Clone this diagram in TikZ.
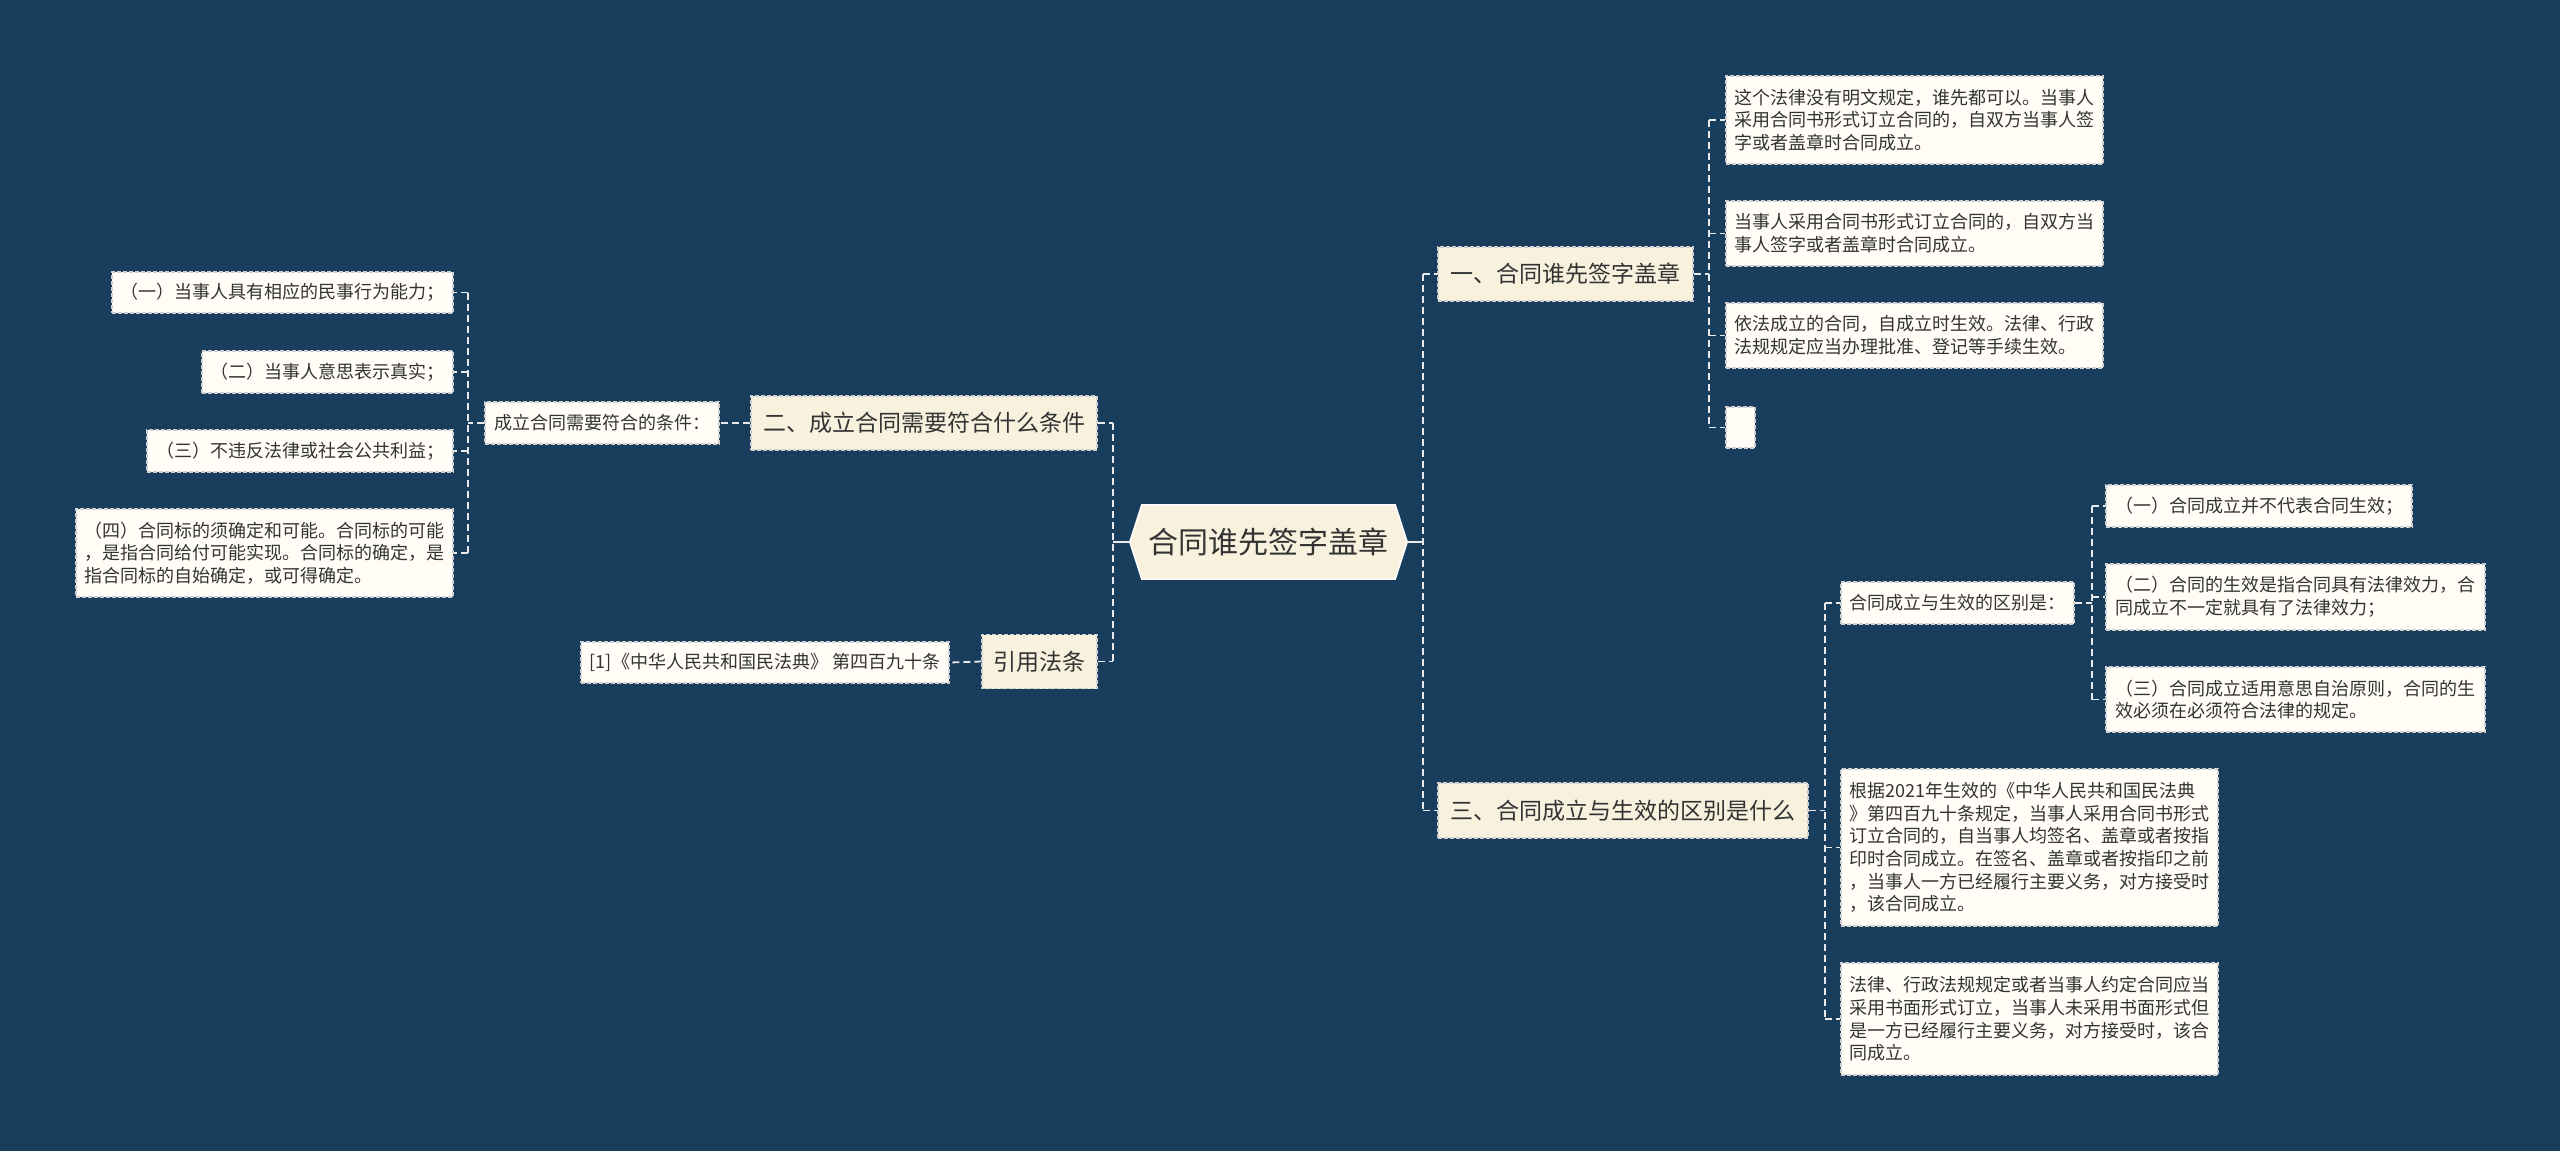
\documentclass[tikz,border=0pt]{standalone}
\usepackage{fontspec}
\setmainfont{Noto Sans CJK SC}
\usetikzlibrary{calc,backgrounds}
\definecolor{bg}{HTML}{183D5D}
\definecolor{topicfill}{HTML}{F7F1DE}
\definecolor{leaffill}{HTML}{FFFDF6}
\definecolor{txt}{HTML}{333333}
\definecolor{edgec}{HTML}{D0D0D0}
\definecolor{linec}{HTML}{EAEAEA}
\begin{document}
\begin{tikzpicture}[x=1pt,y=-1pt,
  box/.style={draw=edgec, line width=1.4pt, dash pattern=on 4pt off 2pt, text=txt, inner sep=0pt, align=left},
  topic/.style={box, fill=topicfill, font=\fontsize{23}{28}\selectfont},
  leaf/.style={box, fill=leaffill, font=\fontsize{18}{22.7}\selectfont},
  conn/.style={draw=linec, line width=1.8pt, dash pattern=on 7pt off 4pt},
  solidc/.style={draw=linec, line width=2pt},
]
\begin{pgfonlayer}{background}
\fill[bg] (0,0) rectangle (2560,1151);
\end{pgfonlayer}
\useasboundingbox (0,0) rectangle (2560,1151);

% root
\node[text=txt, font=\fontsize{30}{36}\selectfont, minimum width=277, minimum height=74, inner sep=0pt] (root) at (1268.5,542) {合同谁先签字盖章};
\begin{pgfonlayer}{background}
\draw[fill=topicfill, draw=white, line width=1.5pt] (root.west) -- ([xshift=12]root.north west) -- ([xshift=-12]root.north east) -- (root.east) -- ([xshift=-12]root.south east) -- ([xshift=12]root.south west) -- cycle;
\end{pgfonlayer}

% spine coordinates
\coordinate (sR) at (1423,0);
\coordinate (sL) at (1113,0);
\coordinate (s1) at (1709,0);
\coordinate (s3) at (1825,0);
\coordinate (sb) at (2092,0);
\coordinate (sd) at (468,0);

% topics
\node[topic, minimum width=255, minimum height=54] (t1) at (1565.5,274) {一、合同谁先签字盖章};
\node[topic, minimum width=370, minimum height=55] (t3) at (1623,810.5) {三、合同成立与生效的区别是什么};
\node[topic, minimum width=346, minimum height=54] (t2) at (924,423) {二、成立合同需要符合什么条件};
\node[topic, minimum width=115, minimum height=54] (t4) at (1039.5,661.5) {引用法条};

% leaves of t1
\node[leaf, minimum width=377, minimum height=88] (a1) at (1914.5,120) {这个法律没有明文规定，谁先都可以。当事人\\采用合同书形式订立合同的，自双方当事人签\\字或者盖章时合同成立。};
\node[leaf, minimum width=377, minimum height=65] (a2) at (1914.5,233.5) {当事人采用合同书形式订立合同的，自双方当\\事人签字或者盖章时合同成立。};
\node[leaf, minimum width=377, minimum height=65] (a3) at (1914.5,335.5) {依法成立的合同，自成立时生效。法律、行政\\法规规定应当办理批准、登记等手续生效。};
\node[leaf, minimum width=29, minimum height=41] (a4) at (1740.5,427.5) {};

% children of t3
\node[leaf, minimum width=233, minimum height=42] (b1) at (1957.5,603) {合同成立与生效的区别是：};
\node[leaf, minimum width=377, minimum height=157] (b2) at (2029.5,847.5) {根据2021年生效的《中华人民共和国民法典\\》第四百九十条规定，当事人采用合同书形式\\订立合同的，自当事人均签名、盖章或者按指\\印时合同成立。在签名、盖章或者按指印之前\\，当事人一方已经履行主要义务，对方接受时\\，该合同成立。};
\node[leaf, minimum width=377, minimum height=112] (b3) at (2029.5,1019) {法律、行政法规规定或者当事人约定合同应当\\采用书面形式订立，当事人未采用书面形式但\\是一方已经履行主要义务，对方接受时，该合\\同成立。};

% children of b1
\node[leaf, minimum width=306, minimum height=42] (c1) at (2259,506) {（一）合同成立并不代表合同生效；};
\node[leaf, minimum width=379, minimum height=66] (c2) at (2295.5,597) {（二）合同的生效是指合同具有法律效力，合\\同成立不一定就具有了法律效力；};
\node[leaf, minimum width=379, minimum height=65] (c3) at (2295.5,699.5) {（三）合同成立适用意思自治原则，合同的生\\效必须在必须符合法律的规定。};

% left side
\node[leaf, minimum width=234, minimum height=42] (d0) at (602,423) {成立合同需要符合的条件：};
\node[leaf, minimum width=341, minimum height=41] (d1) at (282.5,292.5) {（一）当事人具有相应的民事行为能力；};
\node[leaf, minimum width=251, minimum height=42] (d2) at (327.5,372) {（二）当事人意思表示真实；};
\node[leaf, minimum width=306, minimum height=42] (d3) at (300,451) {（三）不违反法律或社会公共利益；};
\node[leaf, minimum width=377, minimum height=88] (d4) at (264.5,553) {（四）合同标的须确定和可能。合同标的可能\\，是指合同给付可能实现。合同标的确定，是\\指合同标的自始确定，或可得确定。};
\node[leaf, minimum width=368, minimum height=41] (e1) at (765,662.5) {[1]《中华人民共和国民法典》 第四百九十条};

% connectors: root
\draw[solidc] (root.east) -- (root.east -| sR);
\draw[solidc] (root.west) -- (root.west -| sL);
\draw[conn] (sR |- t1.west) -- (sR |- t3.west);
\draw[conn] (sR |- t1.west) -- (t1.west);
\draw[conn] (sR |- t3.west) -- (t3.west);
\draw[conn] (sL |- t2.east) -- (sL |- t4.east);
\draw[conn] (t2.east) -- (sL |- t2.east);
\draw[conn] (t4.east) -- (sL |- t4.east);
\draw[conn] (t2.west) -- (d0.east);
\draw[conn] (t4.west) -- (e1.east);

% conditions
\draw[conn] (d0.west) -- (d0.west -| sd);
\draw[conn] (sd |- d1.east) -- (sd |- d4.east);
\foreach \n in {d1,d2,d3,d4} \draw[conn] (sd |- \n.east) -- (\n.east);

% t1 leaves
\draw[conn] (t1.east) -- (t1.east -| s1);
\draw[conn] (s1 |- a1.west) -- (s1 |- a4.west);
\foreach \n in {a1,a2,a3,a4} \draw[conn] (s1 |- \n.west) -- (\n.west);

% t3 children
\draw[conn] (t3.east) -- (t3.east -| s3);
\draw[conn] (s3 |- b1.west) -- (s3 |- b3.west);
\foreach \n in {b1,b2,b3} \draw[conn] (s3 |- \n.west) -- (\n.west);

% b1 children
\draw[conn] (b1.east) -- (b1.east -| sb);
\draw[conn] (sb |- c1.west) -- (sb |- c3.west);
\foreach \n in {c1,c2,c3} \draw[conn] (sb |- \n.west) -- (\n.west);
\end{tikzpicture}
\end{document}
